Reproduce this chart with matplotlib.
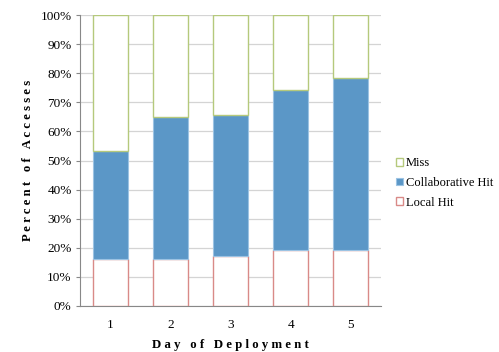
import numpy as np
import matplotlib
matplotlib.use("Agg")
import matplotlib.pyplot as plt

days = ["1", "2", "3", "4", "5"]
local_hit = [16.3, 16.0, 17.1, 19.2, 19.2]
collab_hit = [37.0, 49.0, 48.6, 54.9, 59.2]
miss = [46.7, 35.0, 34.3, 25.9, 21.6]

plt.rcParams['font.family'] = ['Liberation Serif', 'DejaVu Serif']

fig = plt.figure(figsize=(4.99, 3.52), dpi=100)
ax = fig.add_axes([80 / 499, 1 - 306 / 352, 301 / 499, 291 / 352])

x = np.arange(len(days))
w = 0.58
local_b = np.array(local_hit)
collab_b = local_b + np.array(collab_hit)

ax.bar(x, local_hit, w, color="white", edgecolor="#d98a88", linewidth=1, label="Local Hit", zorder=3)
ax.bar(x, collab_hit, w, bottom=local_b, color="#5b97c7", edgecolor="#9cc3e3", linewidth=0.8,
       label="Collaborative Hit", zorder=3)
ax.bar(x, miss, w, bottom=collab_b, color="white", edgecolor="#b5c97c", linewidth=1, label="Miss", zorder=3)

ax.set_xlim(-0.5, len(days) - 0.5)
ax.set_ylim(0, 100)
ax.set_yticks(np.arange(0, 101, 10))
ax.set_yticklabels([f"{v}%" for v in range(0, 101, 10)], fontsize=9.5)
ax.set_xticks(x)
ax.set_xticklabels(days, fontsize=9.5)
ax.tick_params(axis="x", length=0, pad=9)
ax.tick_params(axis="y", length=3, color="#888888", pad=3)
ax.yaxis.grid(True, color="#d4d4d4", linewidth=0.9, zorder=0)
ax.set_axisbelow(True)
for s in ["top", "right"]:
    ax.spines[s].set_visible(False)
for s in ["left", "bottom"]:
    ax.spines[s].set_color("#888888")

# letter-spaced bold axis titles, like the original
ax.set_ylabel("P e r c e n t   o f   A c c e s s e s", fontsize=9.2, fontweight="bold", labelpad=5)
ax.set_xlabel("D a y   o f   D e p l o y m e n t", fontsize=9.2, fontweight="bold", labelpad=6)

handles, labels = ax.get_legend_handles_labels()
fig.legend(handles[::-1], labels[::-1], loc="center left", bbox_to_anchor=(391 / 499, 1 - 183 / 352),
           frameon=False, fontsize=9.0, handlelength=0.55, handleheight=0.55, handletextpad=0.25,
           labelspacing=0.6, borderaxespad=0)

plt.savefig("out.png", dpi=100)
